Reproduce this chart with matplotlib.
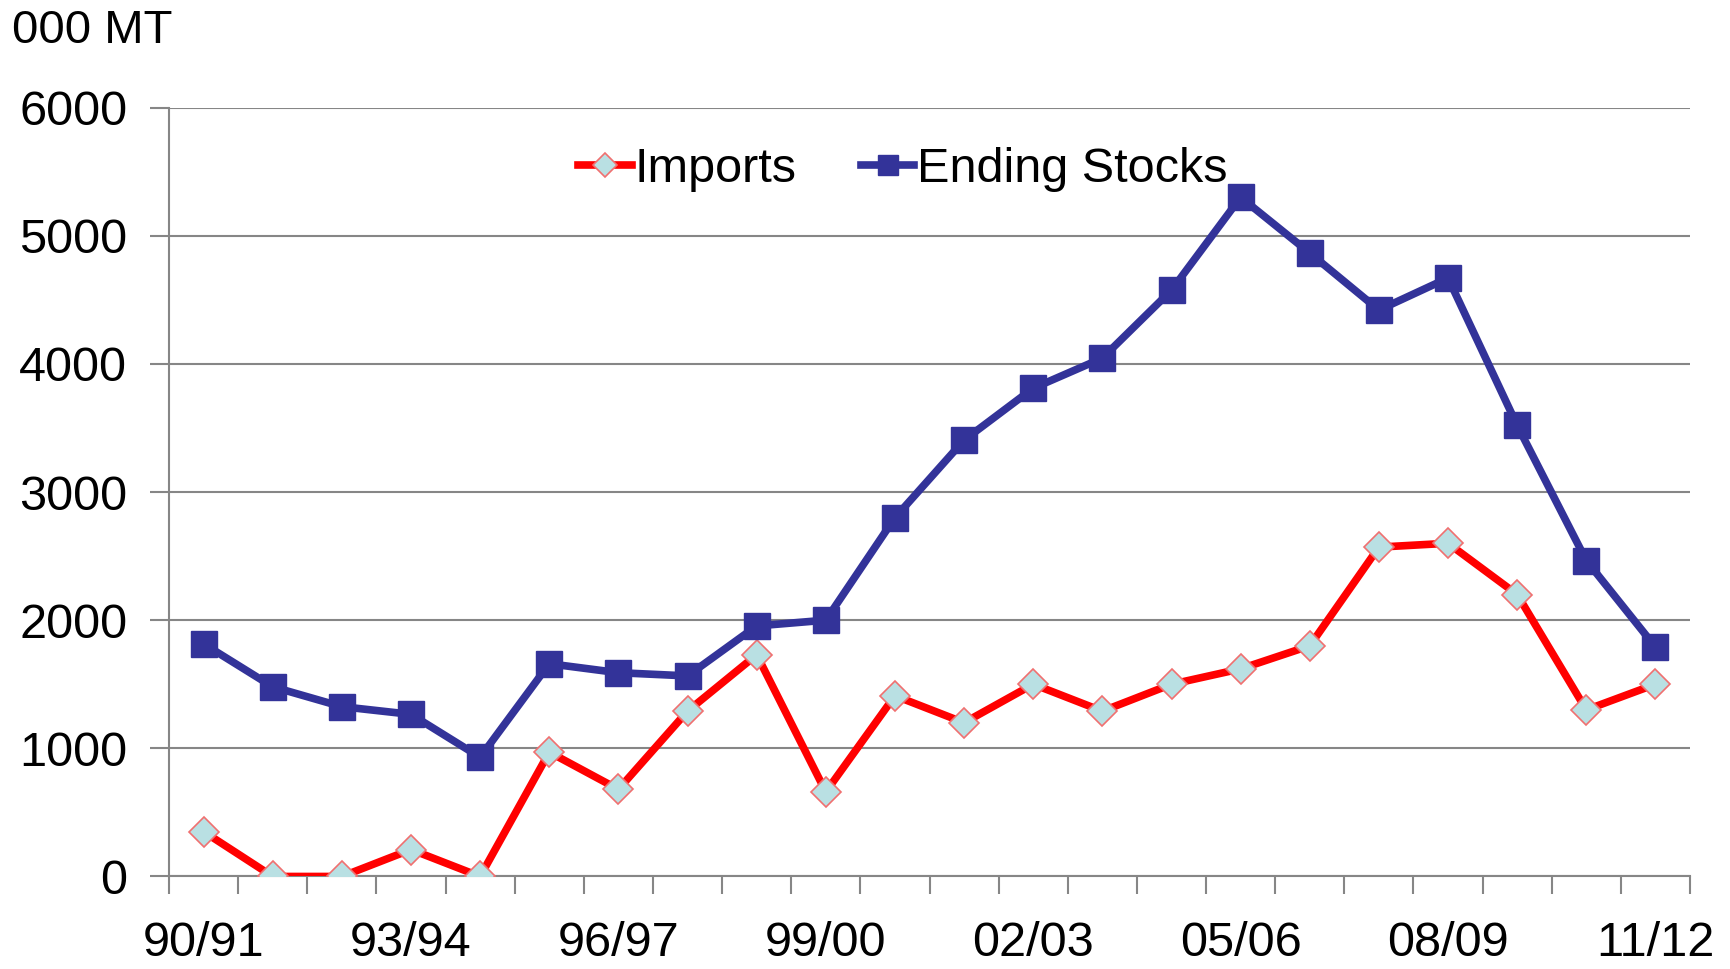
import numpy as np
import matplotlib
matplotlib.use("Agg")
import matplotlib.pyplot as plt

plt.rcParams['font.family'] = ['Liberation Sans', 'DejaVu Sans']

# marketing years 90/91 .. 11/12
seasons = ['90/91', '91/92', '92/93', '93/94', '94/95', '95/96', '96/97', '97/98',
           '98/99', '99/00', '00/01', '01/02', '02/03', '03/04', '04/05', '05/06',
           '06/07', '07/08', '08/09', '09/10', '10/11', '11/12']
imports = [350, 0, 0, 210, 0, 970, 680, 1290, 1730, 660, 1410, 1200,
           1500, 1290, 1500, 1620, 1800, 2570, 2600, 2200, 1300, 1500]
ending_stocks = [1815, 1480, 1325, 1265, 930, 1660, 1590, 1565, 1955, 2000, 2800, 3405,
                 3810, 4045, 4575, 5300, 4865, 4420, 4670, 3520, 2465, 1790]
y_ticks = [0, 1000, 2000, 3000, 4000, 5000, 6000]

grey = '#868686'
x = np.arange(len(seasons))

fig = plt.figure(figsize=(17.3, 9.69), dpi=100)
ax = fig.add_axes([0.0977, 0.0955, 0.8792, 0.7935])

ax.plot(x, imports, color='#FF0000', lw=5.5, marker='D', markersize=15.5,
        markerfacecolor='#B9E0E3', markeredgecolor='#F07070', markeredgewidth=1.2,
        label='Imports', zorder=3)
ax.plot(x, ending_stocks, color='#333399', lw=5.5, marker='s', markersize=18.5,
        markerfacecolor='#333399', markeredgecolor='#333399',
        label='Ending Stocks', zorder=3)

ax.set_xlim(-0.5, len(seasons) - 0.5)
ax.set_ylim(0, 6000)
ax.set_yticks(y_ticks)
ax.set_yticklabels([str(v) for v in y_ticks], fontsize=35)
ax.yaxis.grid(True, color=grey, lw=1.5)
ax.set_axisbelow(True)

# labels every third season, tick marks between categories
ax.set_xticks(x[::3])
ax.set_xticklabels(seasons[::3], fontsize=35)
ax.set_xticks(np.arange(-0.5, len(seasons), 1), minor=True)
ax.tick_params(axis='x', which='major', length=0, pad=32)
ax.tick_params(axis='x', which='minor', length=13, width=1.5, color=grey, direction='out')
ax.tick_params(axis='y', length=14, width=1.5, color=grey, pad=16)

for s in ['top', 'right']:
    ax.spines[s].set_visible(False)
for s in ['left', 'bottom']:
    ax.spines[s].set_color(grey)
    ax.spines[s].set_linewidth(1.5)

ax.legend(loc='upper center', bbox_to_anchor=(0.4825, 1.005), ncol=2, frameon=False,
          fontsize=35, handlelength=1.1, handletextpad=0.05, columnspacing=1.33,
          markerscale=0.8)

fig.text(0.007, 0.968, '000 MT', fontsize=34, va='center', ha='left')

fig.savefig('out.png', dpi=100)
